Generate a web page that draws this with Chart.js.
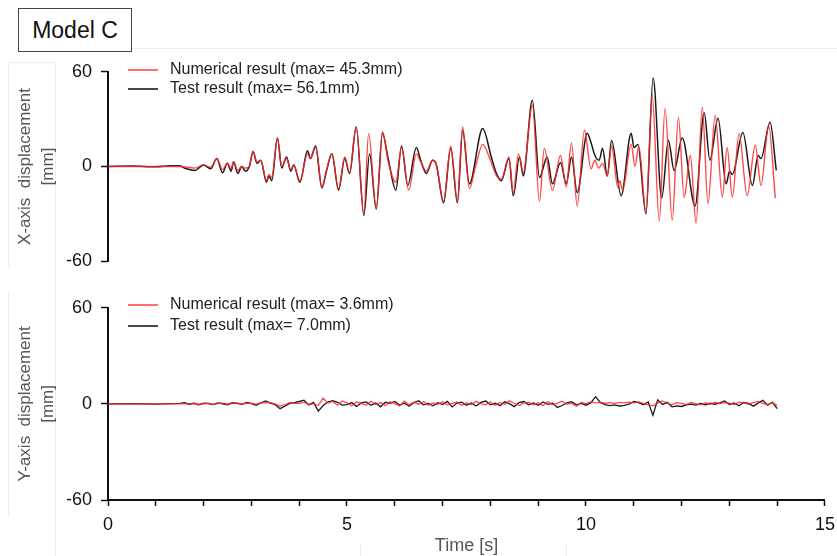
<!DOCTYPE html>
<html>
<head>
<meta charset="utf-8">
<script src="https://cdn.jsdelivr.net/npm/chart.js@4.4.0/dist/chart.umd.min.js"></script>
<style>
body { margin: 0; background: #fff; font-family: "Liberation Sans", Arial, sans-serif; }
#wrap { position: relative; width: 837px; height: 556px; overflow: hidden; }
#model { position: absolute; left: 18px; top: 8px; width: 112px; height: 42px; border: 1px solid #444;
         font-size: 23px; color: #111; line-height: 42px; text-align: center; background: #fff; }
.faint { position: absolute; background: #ececec; }
canvas { position: absolute; left: 0; }
</style>
</head>
<body>
<div id="wrap">
  <div class="faint" style="left:110px;top:48px;width:727px;height:1px"></div>
  <div class="faint" style="left:8px;top:62px;width:47px;height:1px"></div>
  <div class="faint" style="left:8px;top:62px;width:1px;height:205px"></div>
  <div class="faint" style="left:55px;top:62px;width:1px;height:494px"></div>
  <div class="faint" style="left:8px;top:292px;width:1px;height:225px"></div>
  <div class="faint" style="left:360px;top:543px;width:1px;height:13px"></div>
  <div class="faint" style="left:566px;top:543px;width:1px;height:13px"></div>
  <div id="model">Model C</div>
  <canvas id="topChart" width="843" height="229" style="top:52px"></canvas>
  <canvas id="bottomChart" width="843" height="269" style="top:288px"></canvas>
</div>
<script>
// ---- data ----
const yTicks = [-60, 0, 60];
const xLabels = [0, 5, 10, 15];

// X-axis displacement, test result (black)
const xTestTime = [0, 0.5, 1.0, 1.3, 1.5, 1.6, 1.82, 2.0, 2.15, 2.28, 2.4, 2.5, 2.58, 2.63, 2.72, 2.8, 2.88, 2.96, 3.04, 3.12,
  3.2, 3.32, 3.37, 3.43, 3.55, 3.64, 3.74, 3.83, 3.89, 4.02, 4.18, 4.24, 4.35, 4.48, 4.58, 4.69, 4.83, 4.96, 5.06, 5.2,
  5.36, 5.48, 5.62, 5.75, 5.87, 6.03, 6.15, 6.28, 6.46, 6.55, 6.67, 6.8, 6.88, 7.03, 7.18, 7.32, 7.43, 7.57, 7.85, 8.03,
  8.14, 8.24, 8.4, 8.49, 8.62, 8.7, 8.89, 9.04, 9.2, 9.31, 9.48, 9.6, 9.71, 9.83, 10.04, 10.12, 10.2, 10.29, 10.36, 10.46,
  10.55, 10.75, 10.96, 11.02, 11.1, 11.27, 11.42, 11.6, 11.74, 11.86, 12.03, 12.3, 12.49, 12.61, 12.78, 12.95, 13.02, 13.08, 13.3, 13.5,
  13.62, 13.68, 13.87, 14.0];
const xTestDisp = [0, 0.3, -0.2, 0.4, 0.5, -1, -2.5, 1, -1.5, 5, -4, 2, -3, 3, -4.5, 0, -3, 0, 9.5, 2,
  4, -10, -6, -9, 18, -1, 6, -3, 1, -10, 10, 5, 13, -13.5, -2.5, 8, -15, 5, -4.5, 25,
  -31, 8, -27, 21, 5, -15, 13, -12, 12, 4, -4.5, 4, 1, -23, 11.5, -23, 23, -11, 24, 6,
  -4.5, -9, 5, -18.5, 6, -6, 42, -7, 6, -11, 2.5, -11, 6, -16.5, 21, 15, 7, 4, 11.5, -6,
  16.5, -18.5, 21, 12, 14, -30, 56.1, -20, 16.5, -2.5, 18, -25, 34, 4, 30.5, -11, -3, -5, 21.5, -12,
  7, 5, 28, -2.5];

// X-axis displacement, numerical result (red)
const xNumTime = [0, 1.5, 1.82, 2.0, 2.15, 2.28, 2.4, 2.5, 2.58, 2.63, 2.72, 2.8, 2.88, 2.96, 3.04, 3.12, 3.2, 3.32, 3.37, 3.43,
  3.55, 3.64, 3.74, 3.83, 3.89, 4.02, 4.18, 4.24, 4.35, 4.48, 4.58, 4.69, 4.83, 4.96, 5.06, 5.2, 5.36, 5.46, 5.62, 5.75,
  5.87, 6.03, 6.15, 6.3, 6.46, 6.55, 6.67, 6.8, 6.88, 7.03, 7.18, 7.32, 7.43, 7.57, 7.7, 7.85, 8.0, 8.14, 8.24, 8.4,
  8.49, 8.6, 8.7, 8.89, 9.04, 9.14, 9.31, 9.48, 9.6, 9.71, 9.83, 9.98, 10.12, 10.2, 10.28, 10.36, 10.46, 10.55, 10.68, 10.72,
  10.78, 10.96, 11.04, 11.12, 11.27, 11.4, 11.55, 11.67, 11.82, 11.95, 12.07, 12.2, 12.32, 12.45, 12.57, 12.72, 12.87, 12.97, 13.08, 13.22,
  13.39, 13.56, 13.68, 13.84, 13.98];
const xNumDisp = [0, 0, -1, 1, -0.5, 5, -2, 2, -1.5, 3, -2.5, 0, -1, 0, 9.5, 3, 4, -9, -5, -7,
  18, 0, 5, -2, 1, -9, 8, 5, 12, -13, -2, 8, -14, 6, -4, 25, -30, 21, -27, 22,
  3, -10, 12, -15, 8, 3, -3, 4, 1, -22, 13, -22, 25, -14, 0, 14, 5, -6, -8, 6,
  -17, 8, -4, 39, -22, 11.5, -15, 7, -13, 15, -25, 23, -1.5, 4, -1, 2, -6, 13, -13, -9,
  -15, 14, 0, 13, -29, 45.3, -34.5, 37, -34, 31, -19.5, 7, -36, 37.5, -23.5, 32.5, -19.5, 12, -19.5, 21,
  -18.5, 13.5, -12, 26, -20];

// Y-axis displacement (both series share one time grid)
const yTime = [0, 0.5, 1.0,
  1.5, 1.6, 1.7, 1.8, 1.9, 2.0, 2.1, 2.2, 2.3, 2.4, 2.5, 2.6, 2.7, 2.8, 2.9,
  3.0, 3.1, 3.2, 3.3, 3.4, 3.5, 3.6, 3.7, 3.8, 3.9,
  4.0, 4.1, 4.2, 4.3, 4.4, 4.5, 4.6, 4.7, 4.8, 4.9,
  5.0, 5.1, 5.2, 5.3, 5.4, 5.5, 5.6, 5.7, 5.8, 5.9,
  6.0, 6.1, 6.2, 6.3, 6.4, 6.5, 6.6, 6.7, 6.8, 6.9,
  7.0, 7.1, 7.2, 7.3, 7.4, 7.5, 7.6, 7.7, 7.8, 7.9,
  8.0, 8.1, 8.2, 8.3, 8.4, 8.5, 8.6, 8.7, 8.8, 8.9,
  9.0, 9.1, 9.2, 9.3, 9.4, 9.5, 9.6, 9.7, 9.8, 9.9,
  10.0, 10.1, 10.2, 10.3, 10.4, 10.5, 10.6, 10.7, 10.8, 10.9,
  11.0, 11.1, 11.2, 11.3, 11.4, 11.5, 11.6, 11.7, 11.8, 11.9,
  12.0, 12.1, 12.2, 12.3, 12.4, 12.5, 12.6, 12.7, 12.8, 12.9,
  13.0, 13.1, 13.2, 13.3, 13.4, 13.5, 13.6, 13.7, 13.8, 13.9,
  14.0];
const yTestDisp = [0, 0.2, -0.1,
  0.3, 0.8, -0.2, 0.4, -0.6, 0.5, 0.2, -0.4, 0.6, 0.1, -0.5, 0.7, 0.3, -0.3, 0.9,
  0.2, -0.8, 0.6, 1.8, 0.4, -0.5, -3.0, -1.5, 0.3, 0.8,
  1.5, 2.3, -0.6, 0.9, -4.5, -1.0, 1.2, 2.0, 1.0, -0.8,
  -0.5, 0.8, -1.6, 0.6, 1.2, -0.9, 0.5, -1.8, 1.0, 0.3,
  1.5, -0.7, 0.4, -1.5, 0.9, 2.0, -0.6, 0.3, -1.2, 0.8,
  -0.4, 1.6, -1.9, 0.5, 1.1, -0.8, 0.6, -1.3, 0.9, 1.8,
  -0.6, 0.4, -1.1, 1.3, 0.2, -1.7, 0.8, 1.5, -0.5, 0.6,
  -0.9, 1.2, -0.3, 0.5, -2.2, -1.0, 0.7, 1.4, -0.6, 0.3,
  -0.8, 0.6, 4.5, 0.9, -0.4, -1.1, -0.6, -1.3, -0.9, -0.2,
  1.5, 0.8, -0.5, 1.2, -7.0, 2.5, -0.3, 1.0, -1.8, -1.2,
  -1.6, -0.6, -0.2, -0.8, 0.3, -0.5, 0.4, -0.2, 0.6, 1.8,
  -0.4, 0.6, -1.2, 0.9, 0.3, -1.4, 0.5, 2.2, -0.8, 1.0,
  -3.0];
const yNumDisp = [0, 0, 0,
  0.0, 0.2, -0.1, 0.3, -0.2, 0.1, 0.4, -0.3, 0.2, 0.5, -0.2, 0.3, 0.6, -0.1, 0.4,
  0.5, -0.3, 0.8, 0.6, 0.9, -0.2, -1.4, -0.6, 0.7, 0.4,
  0.3, 1.1, -0.4, 0.2, -1.0, 3.6, 0.5, 1.5, -0.8, 1.8,
  0.6, -1.2, 1.4, 0.3, -0.9, 1.6, -0.4, 0.9, -1.1, 1.3,
  0.2, -1.3, 1.7, -0.5, 1.0, -0.2, 1.5, -0.9, 0.6, -0.3,
  1.4, -0.7, 0.4, 1.2, -1.0, 0.8, -0.4, 1.6, 0.1, -0.6,
  1.2, -0.8, 0.9, -0.3, 2.0, 0.4, -1.0, 0.6, 1.1, -0.5,
  0.8, -1.1, 1.5, -0.6, 0.3, 1.7, -0.2, 0.5, -1.4, 0.9,
  0.2, 1.3, 0.6, 1.0, 0.4, 0.8, 0.3, 0.9, 0.7, 1.1,
  0.6, 1.2, 0.4, -0.6, -1.2, 0.5, 1.8, 0.4, -0.4, 0.8,
  0.3, -0.5, 0.9, 0.1, -0.6, 0.7, -0.2, 1.0, 0.2, 0.8,
  0.5, -0.4, 1.1, 0.6, -0.2, 0.8, 1.6, 0.3, -0.5, 0.9,
  -1.0];

const RED = 'rgba(255, 40, 40, 0.85)';
const BLACK = '#1a1a1a';

function zip(ts, vs) {
    return ts.map((t, i) => ({ x: t, y: vs[i] }));
}

// legend drawn inside the plot, top-left
const innerLegend = {
    id: 'innerLegend',
    afterDraw(chart, args, opts) {
        const ctx = chart.ctx;
        ctx.save();
        ctx.font = '16px "Liberation Sans", Arial, sans-serif';
        ctx.textBaseline = 'middle';
        chart.data.datasets.forEach((ds, i) => {
            const y = opts.y + i * opts.gap;
            ctx.strokeStyle = ds.borderColor;
            ctx.lineWidth = 1.6;
            ctx.beginPath();
            ctx.moveTo(128, y);
            ctx.lineTo(158, y);
            ctx.stroke();
            ctx.fillStyle = '#222';
            ctx.fillText(ds.label, 170, y);
        });
        ctx.restore();
    }
};

function yScale(title) {
    return {
        type: 'linear',
        min: -60,
        max: 60,
        afterBuildTicks: s => { s.ticks = yTicks.map(v => ({ value: v })); },
        afterFit: s => { s.width = 108; },
        ticks: { color: '#111', font: { size: 18, family: '"Liberation Sans", Arial' }, padding: 9 },
        grid: { display: true, drawOnChartArea: false, tickLength: 7, color: '#111', tickWidth: 1.5 },
        border: { display: true, color: '#111', width: 2 },
        title: {
            display: true,
            text: [title, '[mm]'],
            color: '#555',
            font: { size: 17, family: '"Liberation Sans", Arial', lineHeight: 1.35 },
            padding: { top: 14, bottom: 0 }
        }
    };
}

function makeChart(id, datasets, showX, padding, legendY, legendGap) {
    return new Chart(document.getElementById(id), {
        type: 'line',
        data: { datasets: datasets },
        options: {
            responsive: false,
            animation: false,
            layout: { padding: padding },
            elements: { point: { radius: 0 } },
            plugins: {
                legend: { display: false },
                tooltip: { enabled: false },
                innerLegend: { y: legendY, gap: legendGap }
            },
            scales: {
                x: {
                    type: 'linear',
                    min: 0,
                    max: 15,
                    display: showX,
                    afterFit: s => { if (showX) s.height = 57; },
                    ticks: {
                        stepSize: 1,
                        autoSkip: false,
                        maxRotation: 0,
                        color: '#111',
                        font: { size: 18, family: '"Liberation Sans", Arial' },
                        padding: 8,
                        callback: v => xLabels.includes(v) ? String(v) : ''
                    },
                    grid: { display: true, drawOnChartArea: false, tickLength: 6, color: '#111', tickWidth: 1.5 },
                    border: { display: true, color: '#111', width: 2 },
                    title: {
                        display: true,
                        text: 'Time [s]',
                        color: '#555',
                        font: { size: 18, family: '"Liberation Sans", Arial' },
                        padding: { top: 0, bottom: 0 }
                    }
                },
                y: yScale(showX ? 'Y-axis  displacement' : 'X-axis  displacement')
            }
        },
        plugins: [innerLegend]
    });
}

makeChart('topChart', [
    { label: 'Numerical result (max= 45.3mm)', data: zip(xNumTime, xNumDisp), borderColor: RED, borderWidth: 1.4, cubicInterpolationMode: 'monotone' },
    { label: 'Test result (max= 56.1mm)', data: zip(xTestTime, xTestDisp), borderColor: BLACK, borderWidth: 1.5, cubicInterpolationMode: 'monotone' }
], false, { top: 0, bottom: 0, right: 19, left: 0 }, 18, 19);

makeChart('bottomChart', [
    { label: 'Numerical result (max= 3.6mm)', data: zip(yTime, yNumDisp), borderColor: RED, borderWidth: 1.3 },
    { label: 'Test result (max= 7.0mm)', data: zip(yTime, yTestDisp), borderColor: BLACK, borderWidth: 1.3 }
], true, { top: 0, bottom: 0, right: 0, left: 0 }, 17, 21);
</script>
</body>
</html>
